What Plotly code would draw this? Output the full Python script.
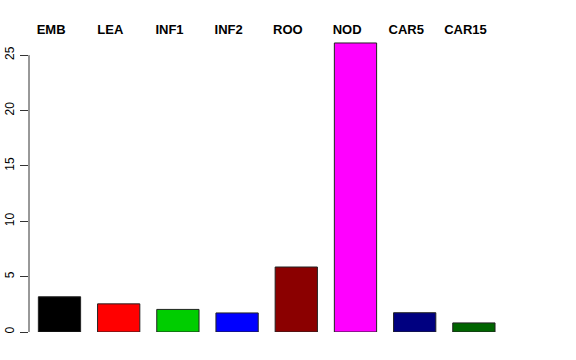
import plotly.graph_objects as go

categories = ["EMB", "LEA", "INF1", "INF2", "ROO", "NOD", "CAR5", "CAR15"]
values = [3.18, 2.54, 2.04, 1.72, 5.87, 26.1, 1.74, 0.82]
colors = ["#000000", "#FF0000", "#00CD00", "#0000FF", "#8B0000", "#FF00FF", "#000080", "#006400"]
y_ticks = [0, 5, 10, 15, 20, 25]

idx = list(range(len(categories)))

fig = go.Figure(go.Bar(
    x=idx,
    y=values,
    marker=dict(color=colors, line=dict(color="#222222", width=1)),
    width=0.714,
))

fig.update_layout(
    width=576, height=360,
    margin=dict(l=29, r=28, t=38, b=28, autoexpand=False),
    plot_bgcolor="white", paper_bgcolor="white",
    showlegend=False,
    font=dict(family="Liberation Sans, Arial, sans-serif", color="black"),
    xaxis=dict(
        range=[-0.515, 8.252],
        showticklabels=False, automargin=False,
        ticks="", showline=False, showgrid=False, zeroline=False,
    ),
    xaxis2=dict(
        overlaying="x", side="top", anchor="y", automargin=False,
        range=[-0.373, 8.394],
        tickmode="array",
        tickvals=idx,
        ticktext=["<b>%s</b>" % c for c in categories],
        tickfont=dict(size=13, family="Liberation Sans, Arial, sans-serif"),
        ticks="", showline=False, showgrid=False, zeroline=False,
    ),
    yaxis=dict(
        range=[0, 26.55], automargin=False,
        tickmode="array",
        tickvals=y_ticks,
        ticktext=[str(v) for v in y_ticks],
        tickangle=-90,
        ticks="outside", ticklen=8, tickcolor="#333333", tickwidth=1,
        tickfont=dict(size=12),
        ticklabelstandoff=1,
        showline=False, showgrid=False, zeroline=False,
    ),
    shapes=[dict(type="line", xref="paper", yref="y", x0=0, x1=0,
                 y0=y_ticks[0], y1=y_ticks[-1], line=dict(color="#333333", width=1))],
)

# invisible trace to activate the top label axis
fig.add_trace(go.Scatter(x=idx, y=[None] * len(idx), xaxis="x2", yaxis="y",
                         mode="markers", hoverinfo="skip", showlegend=False))

fig.write_html("out.html")
